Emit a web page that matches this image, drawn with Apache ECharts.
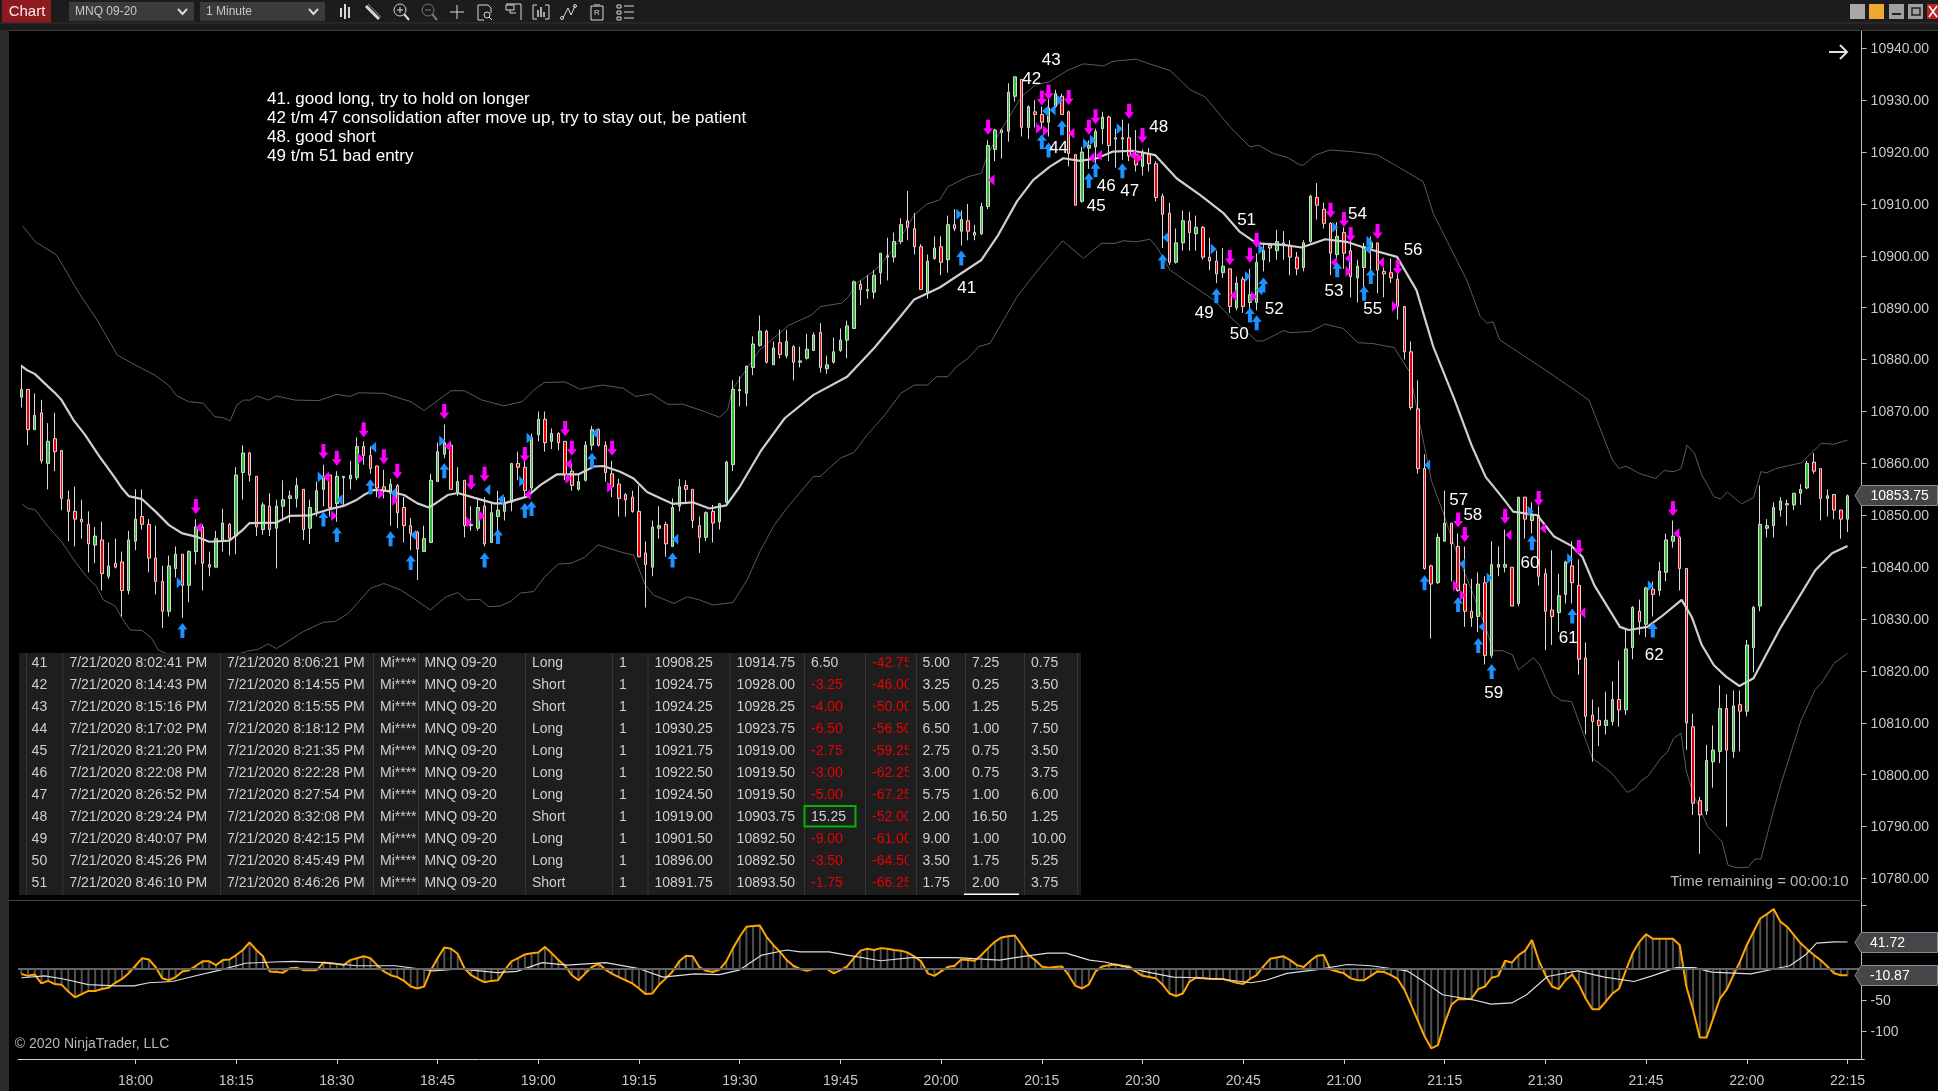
<!DOCTYPE html>
<html><head><meta charset="utf-8"><style>html,body{margin:0;padding:0;background:#000}#c{width:1938px;height:1091px}</style>
<script src="https://cdn.jsdelivr.net/npm/echarts@6/dist/echarts.min.js"></script></head><body><div id="c"></div>
<script>
const PRICE_BASE = 10000;
const highs = [
879,874.25,873.5,872.25,867.75,869.75,862.5,854.75,855.5,853,
850.75,847.75,848.75,844.75,845.5,843,847,855,855,849.25,
848,840.25,842.25,844,842.5,843.25,849.25,848.25,843,847,
851.25,848.5,859.25,863.5,862.25,857.5,852.5,854.25,853,856.75,
854.75,857.25,855,853,856.5,859.75,857.75,858.5,857.5,860.5,
865,864.25,863.25,859.5,858.75,857,856,853.5,849.5,847,
848,858,864,867.5,864.25,859.25,856.75,851.75,853,853.5,
852.25,854.75,853.5,860,862.25,860.75,865.75,870,870,866.75,
866,864.25,860,858,864.25,867.25,866.75,864.25,860.5,857,
854.25,854.75,855.75,845,849,851.75,848.75,853.25,857,856.75,
855,849.75,850.75,852,852.25,860.5,876,876.75,878.75,884.5,
888.5,885.75,883.5,885.75,885.75,882.75,882.5,885,885.25,887,
880.75,884.25,886,887.5,895.25,895.25,896.25,897.25,900.5,903.5,
904.5,907.25,912.5,908.25,902.25,900.25,903.75,903.75,907.75,909,
908.75,910,906,910.25,922.25,924.5,924.5,933.25,934.5,934,
929,930,928.75,930.75,932,931.25,928,919.5,921,922.25,
924.5,927.75,927,924.5,926.25,925.5,924.25,920.5,920.75,918.25,
912,910.25,905.25,908.75,908.5,907.75,905.75,903.5,901,901.5,
897.5,896,896,897.5,900.5,902.5,902.5,905,904.75,903,
900.75,903,911.75,914,910.25,906.5,906.5,905.5,903.75,899.25,
902.5,903.75,902.5,897.75,899.5,897.5,890.25,883.5,876,861.75,
840.5,846.5,854.75,848.5,846.5,844,837.75,839,838.25,845,
844,847.25,840,853.5,853.5,852.5,851.75,839.75,843.25,838.75,
841.25,845,841.5,825.5,814.5,813,816,818,822,828,
832.5,833.75,836.25,837.25,841,846.5,849,846,839.75,811.75,
795.75,805.75,809.5,817.25,815.5,816.25,816.25,826,832.5,855.75,
849.25,852.5,853.5,853,854.25,856,860.5,862,859,855,854,851,854];
const lows = [
870.75,863.5,866.5,860,855,858.5,851,845,844,845.5,
839,840.75,835.5,837.75,839.75,830.5,834.75,843.25,847.25,839,
834.75,828.25,830.5,838,830.25,833.25,840.5,835.5,838.25,840,
843,842.25,842.5,853,856.5,846,846.25,846,839.75,849,
848.5,851.5,845.25,844.5,849.75,851.75,849.75,848.75,852,855,
856.75,859.75,858,853.5,853.25,848,847.5,844.75,843.25,837.5,
843,844.75,856.5,861,855,853.75,845.75,847,847,844,
844.75,847,849,850.75,856.75,853.5,854.75,864.25,862.25,862.75,
862.5,856.75,854.75,854.75,856.5,862.5,863.25,856.5,853.5,849.75,
849.75,850.5,842,832.25,838.25,845.5,842,844,850.75,852.5,
847.5,842.75,845,844.75,847.25,851.75,858.5,871,871,877,
882.5,879.25,879,880.25,880.25,876,878.5,880,881.75,877.5,
877.25,879.25,881.5,880.25,886,890.5,891.75,891.75,894.5,895.25,
898.75,902.25,903,900.25,893.5,891.75,899.25,896.25,896.75,904.75,
902,903,903,904,909,918.25,918.75,922,929.75,923,
922.5,924.75,924.5,923,928.5,927.25,917.25,909.75,910.25,916.75,
917.25,921.5,918.25,917,918.5,918.25,916.25,915.5,916.25,910.5,
901.5,898.25,898.5,901,901,901,899.25,897.25,894.75,895.75,
889,889.5,889,889.25,889.5,897,898.75,899.25,899.25,896.25,
896.25,897,902.5,907,905.25,896.25,899.25,897.5,892,891,
892.75,895,892.75,892,894.75,887.75,880,870.25,858,839.5,
826.25,836.75,845,837.25,835.25,828.5,828.5,827.5,821.25,822.5,
838.25,839,832.5,832.5,845.5,846.5,836.5,824,825,827.5,
833,833,819.25,807.75,802.5,805.5,807.75,809.5,809.25,811.5,
822.25,827,826.5,830.5,834.5,837.25,843.75,835.5,804.75,792.25,
784.75,792.25,797.5,802.25,790,803.25,804.5,811.25,819.75,831.5,
845.75,845.75,849.75,848,851,852,855,858,849,849.75,849.25,845.5,846.75];
const bodyTops = [
874.25,874.25,869.25,869.75,864.25,864.75,862.5,853,850.75,849.25,
848.25,846,845.25,840.25,840.75,841,845.25,849.25,849.75,848.25,
841.75,837.25,840.25,842.5,842.5,843,847.75,847.75,840.5,845.5,
848.5,848.25,857.75,862,862,857.5,852,851.75,851.75,853,
853.75,855.75,855,851.5,854.75,857.5,857.75,857.5,857.5,857.75,
863.25,863.25,861.5,859.5,855.5,856,855.75,851.5,848,846.75,
845.5,856.75,862.25,864,863.5,856.5,856.75,848.25,851.5,851.75,
850.5,851,852.25,860,860,859.25,865,868.5,868.5,865.75,
865.75,864.25,858.5,856.5,863.5,866.5,866.5,863.5,858,856,
854,853.5,850.75,842.75,847.75,848,848.25,851.5,855.5,855.75,
855,848,850.5,850.75,852.25,860.25,874.25,874.25,878.75,883,
885.5,885.5,882.25,883.25,883.5,882.5,879.75,882,884.75,885.25,
879,881.5,883.75,886.5,895,894.5,893.5,896.25,900.5,900,
902.75,906,906.75,905.25,901.75,899,901.5,901.75,906,906,
907,906.75,904.5,909.5,921.25,924.25,924.25,931.5,934.5,934,
928.75,927.75,927.25,928.5,931.25,930.75,927.75,919.5,920,921.25,
924,926.75,926.75,922.75,922.75,922.75,919.5,920,919.75,917.75,
911.5,908.25,902.5,906.75,906.75,905.5,905.5,899.75,899,898,
897.5,894.75,895.5,892.5,898.75,901,902,902.75,902.5,902,
899.75,902.5,911.5,911.25,909,906.25,903.75,904.5,901,898,
901.75,902.5,902.5,897,896.75,895.5,890.25,881.5,870.5,859,
840.25,845.75,848.5,848.5,844,836.75,831.5,836.75,837,840.5,
840.5,840.5,840,853.5,853.5,850,850,838.75,831.75,834.5,
841,840.25,836.5,822.5,811.5,810.5,810.5,814.5,814.5,824.25,
832.25,831.5,836,835.75,839.25,845.25,846,845.75,839.75,809.25,
795,802.75,804.75,812.75,812.75,813.25,813.5,825,832.25,848.25,
848,851.5,852.75,852.25,854.25,855,860,860.25,859,853.75,854,851,853.75];
const bodyBottoms = [
872.75,866.5,866.5,860.5,860,862.25,853.25,850.75,849.25,848.75,
844.5,844.25,838.75,838.25,840,835.5,835.5,845,848.25,841.75,
837.25,831.5,831.5,839.75,836.5,836.5,843,840.75,840,840,
845,845.5,846,858.25,857.75,847.75,847.25,847.25,847.5,851.75,
853.25,853.25,847.25,847.5,850.75,855,851.5,852.25,857.25,857,
857.25,861.5,859,855.25,854.75,854.25,850.5,848,846.5,843.5,
843,844.75,856.5,861.75,855,854.5,848,848,847.5,844.5,
844.75,849.75,850.75,852.5,859.25,854.75,855.25,865.5,864,864.25,
864,857.75,855.75,855,856.75,863.5,863.5,858.25,855.5,853.25,
853,850.75,842,840.5,840,847.5,844.5,844,851.75,855,
849,845.75,845.75,848.5,848.75,852.5,859.75,874,873.5,878.5,
882.75,879.5,879,881,880.75,879.5,879.5,880.25,881.75,878.5,
878.25,879.5,881.75,883.75,886,893.5,893.25,893,896.75,899.75,
899.75,902.75,905.5,901.75,893.5,893,899.5,898.75,899.25,905.25,
904.75,904.75,904,904.25,909.5,920.5,923.75,924,930.75,924.75,
924.75,927.25,925.75,925.75,928.75,927.25,919.75,909.75,910.5,920.75,
921,924.5,921.25,922.5,922.5,919.25,917.5,917.25,917.75,911.25,
908,898.75,898.75,902.5,904.5,904.25,899.75,899,896.5,896.75,
890.25,890,890.25,891,891,899.25,901.5,901,902,899.75,
897.5,897.75,902.75,909.75,906.25,900.5,900.25,900.5,896,895.75,
897.75,901.5,897.25,896.5,895.75,890.25,881.5,870.75,859,839.75,
836.75,837,845,844.5,835.5,831.5,830.25,830.5,823,823,
840,840,832.5,833,849.25,849,838.25,831.5,830.5,831.25,
834.75,837,822.25,811.25,810.25,809.5,809.5,810.25,812.5,812.5,
824.5,829.5,829,834.75,835.5,839,845,839.75,810,794.5,
792.25,793,802.5,804.5,804.75,804.5,812.25,812.25,824.5,832.5,
847.5,848,851,852,852,854.25,855.25,858.5,853.25,853.25,851,849.25,849.25];
const barDirections = (
"GRGRGRRRRR"+"RGRGRRGGRR"+"RRGGRGGRRG"+"GRGGRRGRGG"+"GGRGGGRGGG"+
"GRRRRGRRRR"+"GGGGRGRGGR"+"GGGGRRGGRG"+"RRRGGGRRRR"+"RRRRGGRGGR"+
"RRGRGGGGGG"+"GRGRGRGGGR"+"GGGGGRRGGG"+"GGRRRGGRGR"+"GRRGGGRGGR"+
"GRRGGRRRGG"+"GGRGGRRGRR"+"RRGGRGRRRG"+"RGRGGGRGRR"+"RGGRRRGRRG"+
"GGRRRRRRRR"+"RGGRRRRGRG"+"GGRGRGRRRG"+"GRRRRRGGRG"+"GRGRGGGRRR"+
"RGGGRGRGGG"+"GGGRGGGRRGRRG");
const midLine = [[0,878.8],[0.8,878],[2,877.25],[4,874.8],[5,873.6],[6,872.2],[7.75,868.4],[9.5,865.5],[11.5,861.6],[14,857.1],[15,855.2],[16,853.7],[18,853.1],[20,850.7],[22,848.1],[24,846.5],[26,845.9],[28,844.9],[31,845.1],[33,847.2],[34,848.5],[38,848.6],[40,849.9],[43,850],[46,851.2],[48,851.8],[50,853],[51,853.9],[52.5,854.9],[54.5,854.7],[57,853.9],[59,852.3],[60.7,851.5],[61.7,852.3],[63.5,853.9],[65,854.3],[67.4,853.4],[70.4,852.3],[71.9,852.3],[75.3,853.6],[77.3,855.8],[79.8,857.9],[83,857.9],[85.3,859.4],[86.7,859.5],[89.2,858.4],[91.2,857.1],[93.2,854.5],[95.2,853.3],[97,852.2],[100,852.5],[102.5,851.3],[105,851.9],[107,855.5],[110.1,862.3],[113.7,868.7],[118,873.2],[123,876.7],[127,882.2],[130.3,887.3],[133,891.6],[136.8,893.9],[143,899.2],[145.5,904],[148.3,910.5],[150.7,914.6],[153.2,917.2],[155.2,918.8],[157.7,918.3],[160.2,918.8],[162.6,920.1],[165.6,920.25],[168.9,919.4],[172.1,914.9],[175.6,911.7],[179,908.3],[181.5,904.6],[184,902.4],[188,902.1],[190.7,901.6],[194.2,903.2],[197.4,902.7],[200.4,901.4],[204.9,899.8],[207.8,893.4],[210.3,882.5],[213.5,872.2],[216,863.5],[218.1,857.4],[220.7,853.25],[222.2,850.7],[225.8,850],[228.3,845.9],[230.9,844.1],[232.5,842],[234.3,836.5],[238.1,828.5],[239.4,827.9],[242.2,828.5],[244.2,830.4],[247.3,833.7],[248.8,830.4],[250.3,825],[252.1,821.1],[253.9,818.9],[255.9,817.1],[258,818.6],[262.1,828.5],[267.2,839.4],[269.7,842.7],[272,844.1]];
const upperBand = [[0.2,905.75],[2.1,902.7],[5.2,900.2],[6.3,897.9],[8.6,892.8],[11.3,887.6],[14.3,880.9],[16.9,879],[19.9,877],[21.9,875.1],[23.1,873.1],[24.9,871.9],[27.1,871.6],[28.8,869],[30.1,868.8],[31.1,868.2],[32.1,871.25],[33.1,872.2],[34.1,872.2],[35.1,873],[36.8,872.2],[38,873],[40.8,872.2],[44.3,872.1],[47,873.3],[49,872.9],[50.2,873.6],[54,873.5],[58,871.9],[60,870.2],[64,874],[66,874],[68.6,872.2],[71.9,871.1],[74.6,871.9],[76.3,874.1],[77.9,875.6],[81,875.7],[83.2,874.3],[86.6,875.1],[89.6,874.5],[91.5,872.9],[93.9,873.4],[96.2,871.4],[98.5,871.4],[101.1,870.3],[104,868.9],[105.2,870.3],[105.9,874.2],[108.1,878.3],[110,881.9],[114.3,886.6],[117.7,888.6],[119,890.2],[122.2,890.9],[123.2,892.1],[124.4,894.7],[127.2,897.25],[129.8,901.1],[133,907.85],[134.9,910],[136.8,910.8],[138,913.3],[141,915.25],[143,915.9],[143.8,919.1],[145.5,923.3],[149,930.7],[151,932.9],[153.2,933.6],[155.9,935.8],[158.2,937],[161.2,936.6],[162.6,937.5],[166.1,937.9],[168,937],[171.1,935.7],[174.1,932],[176.3,930.65],[180,924.9],[183,921],[184.3,921.3],[186.5,919.7],[188.5,919],[190.5,917.5],[191,917.5],[192.7,919.4],[194.9,920.4],[198.4,920.05],[201.9,919.5],[205,917.2],[208.8,914.3],[210.3,908.2],[212.3,903],[215.3,895.3],[217.3,888.3],[218.3,887],[219.2,887.3],[220.2,883.8],[227,878],[233.5,872.2],[237,860.6],[238,859],[239,859.5],[241.1,858],[243.4,857.1],[244.7,858.6],[246.2,858.4],[247.2,859],[248.1,863.5],[249.2,862],[250.3,857.75],[252.1,853.6],[253.1,853.1],[254.1,854.5],[256.2,852.2],[258,853.4],[259.1,858.4],[260,858.2],[261.3,859],[265.1,860.1],[268.1,863.85],[270,863.7],[272,864.5]];
const lowerBand = [[0.15,852.1],[1,851.3],[2,851.15],[4,847.8],[6,844.9],[8,841.1],[9.7,838.2],[11.2,836.25],[12.2,833.7],[14,832.5],[15,830.15],[16.2,827.9],[18,827.8],[19.4,826.3],[20.4,824.05],[24,822],[29,822],[33.7,823.8],[35.3,824.2],[36.8,825.2],[38,824.3],[42,827.6],[45,829.4],[46.7,829.5],[48.7,831.1],[50,833],[52,835.9],[54,836.85],[56.5,835.6],[58.3,834.1],[60.9,831.75],[63.3,834.3],[65,835.1],[66.3,833.7],[68.3,833.8],[69.6,832.4],[71.3,832.5],[72.9,833.4],[74.3,835],[76.3,835.3],[78,838.2],[80,840.6],[81.9,840.75],[83.9,841.9],[85.9,844.3],[89.6,842.8],[91.2,842.35],[92.9,836.6],[94.2,834.6],[97.2,833],[99.2,834.3],[101,833.7],[103,832.7],[106,833.2],[108.1,837.55],[110,843],[112,847.8],[114,851.35],[118,857.5],[119,857.5],[122,861],[124,862.1],[126,865.5],[128.6,869.3],[131,873.5],[133,875.1],[135,875.1],[136.3,876.7],[138,876.7],[139.3,878.65],[141,880.25],[142.6,882.5],[144.3,883.15],[145.8,886.5],[148.3,892.1],[150.2,895.3],[152.2,898.5],[155.1,902.9],[158.2,899.5],[160.9,902.4],[162.9,902.4],[164.1,902.9],[166.1,902.7],[168.1,903.2],[169.1,901.75],[171.1,897.25],[173.6,895],[177.6,891.5],[180,888.3],[184,883.6],[185,883.6],[188,885.6],[189,885.2],[192,885.4],[194.2,886.85],[196.9,886],[199.1,883.25],[201.3,883.1],[204.5,882.3],[205.3,880.6],[206.8,877.6],[208,869.6],[210,856.8],[212,849.7],[214,842],[216,835.6],[218.1,828.5],[219.2,823.9],[220.7,823.9],[222.1,823.1],[223,820.2],[225.2,822.55],[226.2,821.1],[228.1,815.4],[229.4,814.3],[230.9,814.1],[233,806.7],[234,803.2],[236.9,800.3],[239.2,796.6],[240.4,797.4],[241.1,798.65],[242.4,799.9],[244.2,803.2],[245.2,804.4],[246.1,807],[247.2,808],[248,800.6],[249.2,795.75],[251.2,790],[253.3,787.1],[254.2,782.6],[255.4,782.1],[257.2,782.15],[258.2,783.75],[259.1,783.75],[261,793.2],[262.1,798.3],[265.1,810.55],[267.2,816.45],[268.1,817.6],[270,821.45],[272,823.4]];
const blueUpArrows = [[24,827.8],[45,849.3],[47,846.3],[52,855.5],[55,845.5],[58,840.9],[63,858.6],[69,841.4],[71,845.9],[75,850.9],[76,851.3],[85,860.6],[97,841.4],[140,899.6],[152,922],[153,920.4],[155,924.7],[159,914.5],[160,916.6],[164,916.4],[170,898.9],[178,892.3],[183,888.6],[184,887.1],[185,894.4],[196,897.3],[200,892.8],[201,896],[209,837],[214,832.8],[217,824.9],[219,819.9],[225,844.7],[231,830.6],[243,827.9]];
const magentaDownArrows = [[26,851.7],[45,862.3],[47,861],[51,866.5],[54,861.3],[56,858.5],[63,870],[67,856.3],[69,857.9],[75,861.7],[81,866.7],[82,862.9],[88,862.9],[144,924.8],[152,930.4],[153,931.5],[156,930.5],[159,924.8],[160,926.8],[165,927.85],[167,923.2],[180,899.7],[183,900.1],[184,903],[195,908.8],[197,907],[198,904.1],[202,904.7],[205,897.8],[214,849.1],[215,846.3],[221,849.8],[226,853.25],[232,843.8],[246,851.3]];
const blueRightMarks = [[23.6,837],[44.6,857.4],[62.7,864.3],[74.6,856.5],[75.7,864.9],[139.7,908],[154.7,930],[158.6,921.6],[159.6,922.3],[163.6,924.5],[177.6,901.3],[182.7,896],[184.7,901.3],[195.7,905.5],[200.8,902.8],[218.7,837.9],[224.8,850.8],[230.7,841.6],[242.7,836.4]];
const blueLeftMarks = [[47.4,853],[52.4,863.1],[55.4,854.3],[58.4,846.2],[69.4,854.9],[71.4,853.1],[85.4,865.8],[97.4,845.4],[152.5,927.9],[153.6,928.1],[170.4,903.55],[184.4,893.4],[200.5,901.3],[209.4,859.7],[214.6,840.6],[217.5,828.5]];
const magentaRightMarks = [[46.6,849.9],[50.6,860.9],[53.6,854.1],[55.7,852.9],[66.7,848.7],[68.6,849.9],[81.5,857.1],[87.7,855.4],[151.6,924.6],[152.6,924.1],[166.6,918.9],[183.6,892.1],[197.7,897],[204.6,890.3],[213.7,836.4],[214.7,834.6]];
const magentaLeftMarks = [[26.4,847.6],[45.4,857.4],[63.5,863.3],[75.4,854],[81.5,859.9],[144.5,914.6],[156.4,923.6],[159.4,918.9],[160.5,919.4],[165.5,919.4],[180.5,892.4],[195.5,898.7],[197.6,899.5],[202.5,898.7],[221.5,846.2],[226.6,847.5],[232.5,831.2],[246.5,846.5]];
const tradeLabels = [[140.8,893.9,'41'],[150.5,934.3,'42'],[153.4,937.9,'43'],[154.5,921,'44'],[160.1,909.8,'45'],[161.6,913.5,'46'],[165.1,912.7,'47'],[169.4,925,'48'],[176.2,889.2,'49'],[181.4,885.1,'50'],[182.5,907.1,'51'],[186.6,889.9,'52'],[195.5,893.4,'53'],[199,908.1,'54'],[201.3,889.9,'55'],[207.3,901.3,'56'],[214.1,853,'57'],[216.2,850.1,'58'],[219.3,815.8,'59'],[224.7,841,'60'],[230.4,826.4,'61'],[243.2,823.3,'62']];
const oscillator = [
-9,-12,-10,-24,-20,-25,-26,-37,-46,-41,-36,-36,-33,-31,-23,-17,-8,4,16,14,
2,-16,-19,-14,-5,-3,4,11,11,5,13,14,21,29,41,29,19,-5,-6,-7,
0,1,-3,-3,-3,9,8,7,5,13,16,19,16,5,-5,-11,-14,-20,-29,-32,
-29,-3,16,33,31,23,0,-11,-17,-22,-20,-19,-3,11,16,22,24,25,34,24,
13,4,-11,-19,-8,2,7,-2,-9,-14,-19,-24,-32,-41,-40,-26,-16,-5,11,20,
19,2,-4,-6,-2,11,32,50,66,67,68,50,37,26,13,4,-1,-4,-1,-1,
-1,-8,-3,3,16,28,31,29,32,31,29,28,25,19,11,-8,-12,-5,2,4,
14,13,12,21,32,42,49,51,52,37,21,13,3,1,2,3,-11,-28,-32,-26,
-5,3,5,6,4,3,-5,-12,-14,-16,-26,-40,-44,-40,-21,-15,-16,-17,-17,-17,
-20,-23,-25,-17,-11,3,15,17,19,13,5,2,12,20,21,-2,-5,-8,-16,-19,
-19,-12,-5,-6,-11,-17,-34,-58,-83,-108,-127,-122,-87,-58,-49,-49,-48,-33,-29,-15,
-12,12,9,21,28,45,13,-11,-29,-33,-19,-10,-26,-48,-65,-65,-53,-40,-32,-3,
24,42,54,47,47,47,47,37,-29,-66,-110,-110,-79,-48,-34,-11,11,37,58,79,
86,94,74,66,53,40,30,21,13,3,-8,-11,-10.87];
const signalLine = [[0,-15],[3.5,-12],[6.3,-17],[10,-26],[14,-28],[16.8,-28],[19,-23],[22.5,-21],[26.3,-11],[29.6,-3],[33.4,8],[37.6,10],[40.5,11],[45.3,9],[50,4],[55.7,4],[61.4,-4],[65.2,-1],[70.9,-7],[73.8,-5],[77.6,9],[81.3,5],[87,9],[91.8,0],[95.6,-14],[100.3,-9],[104,-10],[106.9,-3],[110.3,21],[114,29],[116,26],[120.3,26],[123,21],[128,12],[132.6,17],[139.3,17],[145.7,13],[149.3,19],[152.9,24],[155.6,24],[159.1,13],[161.4,10],[167.2,-5],[171.6,-14],[175.2,-15],[178.7,-17],[183.2,-23],[185.4,-19],[188.5,-8],[193,-2],[197.5,6],[201,4],[206.4,-4],[208.6,-19],[211.7,-42],[216.2,-50],[218.9,-57],[222,-55],[224.2,-42],[227.3,-13],[231.8,-4],[235.8,-14],[240.2,-21],[242.9,-12],[246.5,1],[249.2,1],[251.8,-6],[257.6,-9],[261.6,0],[263.4,4],[265.7,21],[267.4,40],[270.1,42],[272,41.72]];
const priceTicks = [10780,10790,10800,10810,10820,10830,10840,10850,10860,10870,10880,10890,10900,10910,10920,10930,10940];
const oscTicks = [100,50,0,-50,-100];
const oscLabels = [-50,-100];
const noteLines = ['41. good long, try to hold on longer','42 t/m 47 consolidation after move up, try to stay out, be patient','48. good short','49 t/m 51 bad entry'];
const tradeNo = ['41','42','43','44','45','46','47','48','49','50','51'];
const entryTimes = ['7/21/2020 8:02:41 PM','7/21/2020 8:14:43 PM','7/21/2020 8:15:16 PM','7/21/2020 8:17:02 PM','7/21/2020 8:21:20 PM','7/21/2020 8:22:08 PM','7/21/2020 8:26:52 PM','7/21/2020 8:29:24 PM','7/21/2020 8:40:07 PM','7/21/2020 8:45:26 PM','7/21/2020 8:46:10 PM'];
const exitTimes = ['7/21/2020 8:06:21 PM','7/21/2020 8:14:55 PM','7/21/2020 8:15:55 PM','7/21/2020 8:18:12 PM','7/21/2020 8:21:35 PM','7/21/2020 8:22:28 PM','7/21/2020 8:27:54 PM','7/21/2020 8:32:08 PM','7/21/2020 8:42:15 PM','7/21/2020 8:45:49 PM','7/21/2020 8:46:26 PM'];
const sides = ['Long','Short','Short','Long','Long','Long','Long','Short','Long','Long','Short'];
const entryPrices = ['10908.25','10924.75','10924.25','10930.25','10921.75','10922.50','10924.50','10919.00','10901.50','10896.00','10891.75'];
const exitPrices = ['10914.75','10928.00','10928.25','10923.75','10919.00','10919.50','10919.50','10903.75','10892.50','10892.50','10893.50'];
const profits = ['6.50','-3.25','-4.00','-6.50','-2.75','-3.00','-5.00','15.25','-9.00','-3.50','-1.75'];
const cumProfits = ['-42.75','-46.00','-50.00','-56.50','-59.25','-62.25','-67.25','-52.00','-61.00','-64.50','-66.25'];
const maes = ['5.00','3.25','5.00','6.50','2.75','3.00','5.75','2.00','9.00','3.50','1.75'];
const mfes = ['7.25','0.25','1.25','1.00','0.75','0.75','1.00','16.50','1.00','1.75','2.00'];
const etds = ['0.75','3.50','5.25','7.50','3.50','3.75','6.00','1.25','10.00','5.25','3.75'];

const FONT = '"Liberation Sans", Arial, sans-serif';
const barCount = highs.length;
const slotCount = barCount + 2;
const barTimes = [];
for (let i = 0; i < slotCount; i++) {
  const m = 17 * 60 + 43 + i;
  barTimes.push(String(Math.floor(m / 60)).padStart(2, '0') + ':' + String(m % 60).padStart(2, '0'));
}
const candles = highs.map((h, i) => {
  const t = PRICE_BASE + bodyTops[i], b = PRICE_BASE + bodyBottoms[i];
  const up = barDirections[i] === 'G';
  return [up ? b : t, up ? t : b, PRICE_BASE + lows[i], PRICE_BASE + h];
});
const withBase = a => a.map(p => [p[0], PRICE_BASE + p[1]]);

const GRID_L = 17.94, GRID_W = 1846.35;
const isTimeTick = (idx, v) => { const m = +String(v).slice(3); return idx >= 10 && idx < barCount && m % 15 === 0; };

const UP = 'path://M5 0L10 6.5L7 6.5L7 15L3 15L3 6.5L0 6.5Z';
const DOWN = 'path://M3 0L7 0L7 8.5L10 8.5L5 15L0 8.5L3 8.5Z';
const RIGHT = 'path://M0 0L6 5.5L0 11Z';
const LEFT = 'path://M6 0L6 11L0 5.5Z';
const mark = (data, sym, size, color, z) => ({ type: 'scatter', xAxisIndex: 1, yAxisIndex: 0, data: withBase(data), symbol: sym, symbolSize: size, itemStyle: { color, opacity: 1 }, z, silent: true });
const bandLine = (data, color, width, z) => ({ type: 'line', xAxisIndex: 1, yAxisIndex: 0, data: withBase(data), showSymbol: false, symbol: 'none', lineStyle: { color, width }, z, silent: true });

// ---------- overlay furniture ----------
const g = [];
const Z = 20;
const rect = (x, y, w, h, fill, extra) => g.push(Object.assign({ type: 'rect', z: Z, silent: true, shape: { x, y, width: w, height: h }, style: { fill } }, extra || {}));
const text = (x, y, t, fill, size, align, z) => g.push({ type: 'text', z: z || Z + 1, silent: true, style: { x, y: y + 1, text: t, fill, font: size + 'px ' + FONT, textAlign: align || 'left', textVerticalAlign: 'middle' } });
const pline = (pts, stroke, lw) => g.push({ type: 'polyline', z: Z + 1, silent: true, shape: { points: pts }, style: { stroke, lineWidth: lw || 1, fill: null } });
const poly = (pts, fill, stroke) => g.push({ type: 'polygon', z: Z + 1, silent: true, shape: { points: pts }, style: { fill, stroke: stroke || null, lineWidth: 1 } });
const circ = (cx, cy, r, stroke) => g.push({ type: 'circle', z: Z + 1, silent: true, shape: { cx, cy, r }, style: { stroke, fill: null, lineWidth: 1 } });

// window chrome
rect(0, 0, 1938, 30, '#1c1c1c');
rect(0, 22.5, 1938, 1, '#333333');
rect(0, 30, 9, 1061, '#2b2b2b');
rect(9, 30, 1929, 1, '#3c3c3c');
rect(2, 0, 49, 22.5, '#8e1a1f');
text(27, 10.5, 'Chart', '#f0f0f0', 15, 'center');
rect(69, 2, 125, 19, '#3b3b3e');
text(75, 10.5, 'MNQ 09-20', '#c8c8c8', 12);
pline([[178, 9], [182.5, 14], [187, 9]], '#d8d8d8', 2);
rect(200, 2, 125, 19, '#3b3b3e');
text(206, 10.5, '1 Minute', '#c8c8c8', 12);
pline([[309, 9], [313.5, 14], [318, 9]], '#d8d8d8', 2);
const ic = '#d8d8d8';
pline([[341, 8], [341, 17]], ic, 2); pline([[345, 4], [345, 19]], ic, 2); pline([[349, 7], [349, 18]], ic, 2);
pline([[366, 6], [379, 19]], ic, 3); pline([[368, 4], [381, 17]], '#888', 1);
circ(400, 10, 6, ic); pline([[404, 14], [409, 20]], ic, 2); pline([[397, 10], [403, 10]], ic, 1); pline([[400, 7], [400, 13]], ic, 1);
circ(428, 10, 6, '#777'); pline([[432, 14], [437, 20]], '#777', 2); pline([[425, 10], [431, 10]], '#777', 1);
pline([[450, 12], [464, 12]], ic, 1); pline([[457, 5], [457, 19]], ic, 1);
pline([[484, 20], [478, 20], [478, 5], [488, 5], [491, 8], [491, 13]], ic, 1); circ(487, 15, 3, ic); pline([[489, 17], [492, 20]], ic, 1);
pline([[506, 4], [521, 4], [521, 20]], ic, 1); rect(506, 5, 8, 5, 'transparent', { style: { fill: null, stroke: ic, lineWidth: 1 } }); pline([[510, 10], [510, 13], [516, 13]], ic, 1);
pline([[537, 5], [533, 5], [533, 19], [537, 19]], ic, 1); pline([[545, 5], [549, 5], [549, 19], [545, 19]], ic, 1); pline([[538, 17], [538, 10]], ic, 1.5); pline([[541, 17], [541, 7]], ic, 1.5); pline([[544, 17], [544, 12]], ic, 1.5);
pline([[563, 18], [568, 8], [571, 15], [575, 6]], ic, 1); circ(562, 18, 1.5, ic); circ(575, 6, 1.5, ic);
rect(591, 6, 12, 14, 'transparent', { style: { fill: null, stroke: ic, lineWidth: 1 } }); rect(594, 4, 6, 3, '#888'); text(597, 12, 'R', ic, 8, 'center');
rect(617, 5, 4, 3, 'transparent', { style: { fill: null, stroke: ic, lineWidth: 1 } }); rect(617, 11, 4, 3, 'transparent', { style: { fill: null, stroke: ic, lineWidth: 1 } }); rect(617, 17, 4, 3, 'transparent', { style: { fill: null, stroke: ic, lineWidth: 1 } });
pline([[624, 6], [634, 6]], ic, 1); pline([[624, 12], [634, 12]], ic, 1); pline([[624, 18], [634, 18]], ic, 1);
rect(1850, 4, 15, 15, '#a8a8a8'); rect(1869, 4, 15, 15, '#f0a830'); rect(1889, 4, 15, 15, '#a0a0a0'); rect(1908, 4, 15, 15, '#a0a0a0'); rect(1927, 4, 11, 15, '#c02020');
pline([[1892, 14], [1901, 14]], '#222', 2); rect(1912, 8, 8, 7, 'transparent', { style: { fill: null, stroke: '#222', lineWidth: 1.5 } });
pline([[1929, 6], [1937, 17]], '#fff', 1.5); pline([[1937, 6], [1929, 17]], '#fff', 1.5);
// scroll arrow
pline([[1829, 52], [1847, 52]], '#e0e0e0', 2); pline([[1840, 45], [1847, 52], [1840, 59]], '#e0e0e0', 2);
// notes
noteLines.forEach((s, i) => text(267, 98.7 + i * 18.85, s, '#ffffff', 17));
// trade table
const TT = 653, TB = 895, RH = 22.03, R0 = 662;
rect(19, TT, 1062, TB - TT, '#1e1e1e');
const colX = [26, 62.4, 220, 373, 418, 525, 612, 647.5, 729.6, 804, 865, 916, 965, 1024, 1077];
colX.forEach(x => rect(x, TT, 1, TB - TT, '#353535'));
const tc = '#cfcfcf', neg = '#e80000', fs = 14;
tradeNo.forEach((n, r) => {
  const y = R0 + r * RH;
  text(31.6, y, n, tc, fs);
  text(69.4, y, entryTimes[r], tc, fs);
  text(227, y, exitTimes[r], tc, fs);
  text(380, y, 'Mi****', tc, fs);
  text(424.4, y, 'MNQ 09-20', tc, fs);
  text(532, y, sides[r], tc, fs);
  text(619, y, '1', tc, fs);
  text(654.5, y, entryPrices[r], tc, fs);
  text(736.6, y, exitPrices[r], tc, fs);
  text(811, y, profits[r], profits[r][0] === '-' ? neg : tc, fs);
  text(872, y, cumProfits[r], neg, fs);
  text(922.5, y, maes[r], tc, fs);
  text(972, y, mfes[r], tc, fs);
  text(1031, y, etds[r], tc, fs);
});
g.push({ type: 'rect', z: Z + 2, silent: true, shape: { x: 908.5, y: TT, width: 7.5, height: TB - TT }, style: { fill: '#1e1e1e' } });
g.push({ type: 'rect', z: Z + 3, silent: true, shape: { x: 804.5, y: 806, width: 51, height: 20.5 }, style: { fill: null, stroke: '#00b400', lineWidth: 2 } });
rect(964, 893.5, 55, 1.5, '#ffffff', { z: Z + 3 });
// time remaining / copyright
text(1848.5, 880.7, 'Time remaining = 00:00:10', '#b8b8b8', 15, 'right');
text(14.7, 1043, '\u00a9 2020 NinjaTrader, LLC', '#b8b8b8', 14);
// pane separator
rect(9, 900, 1853, 1, '#444444');
// value tags
const tag = (yc, h, label, tx) => { poly([[1855, yc], [1861, yc - h / 2], [1937.5, yc - h / 2], [1937.5, yc + h / 2], [1861, yc + h / 2]], '#45454a', '#8a8a8a'); text(tx, yc, label, '#ffffff', 14); };
tag(495.5, 20, '10853.75', 1870.5);
tag(942.5, 20, '41.72', 1870);
tag(975.5, 20, '-10.87', 1870);

const chart = echarts.init(document.getElementById('c'), null, { renderer: 'canvas' });
chart.setOption({
  animation: false,
  backgroundColor: '#000000',
  textStyle: { fontFamily: FONT },
  grid: [
    { left: GRID_L, top: 30, width: GRID_W, height: 870 },
    { left: GRID_L, top: 900, width: GRID_W, height: 159 }
  ],
  xAxis: [
    { type: 'category', gridIndex: 0, data: barTimes, show: false, boundaryGap: true },
    { type: 'value', gridIndex: 0, min: -0.5, max: slotCount - 0.5, show: false },
    { type: 'category', gridIndex: 1, data: barTimes, boundaryGap: true, position: 'bottom',
      axisLine: { show: true, onZero: false, lineStyle: { color: '#cfcfcf', width: 1 } },
      axisTick: { show: true, length: 5, alignWithLabel: true, interval: isTimeTick, lineStyle: { color: '#cfcfcf' } },
      axisLabel: { show: true, color: '#c8c8c8', fontSize: 14, fontFamily: FONT, margin: 15, interval: isTimeTick, hideOverlap: false },
      splitLine: { show: false } },
    { type: 'value', gridIndex: 1, min: -0.5, max: slotCount - 0.5, show: false }
  ],
  yAxis: [
    { type: 'value', gridIndex: 0, position: 'right', offset: -2.7, min: 10775.86, max: 10943.52, scale: true,
      axisLine: { show: true, onZero: false, lineStyle: { color: '#bdbdbd' } },
      axisTick: { show: true, length: 5, customValues: priceTicks, lineStyle: { color: '#bdbdbd' } },
      axisLabel: { color: '#c8c8c8', fontSize: 14, fontFamily: FONT, margin: 9, verticalAlign: 'top', lineHeight: 2, customValues: priceTicks, formatter: v => Number(v).toFixed(2) },
      splitLine: { show: false } },
    { type: 'value', gridIndex: 1, position: 'right', offset: -2.7, min: -144, max: 108.4,
      axisLine: { show: true, onZero: false, lineStyle: { color: '#bdbdbd' } },
      axisTick: { show: true, length: 5, customValues: oscTicks, lineStyle: { color: '#bdbdbd' } },
      axisLabel: { color: '#c8c8c8', fontSize: 14, fontFamily: FONT, margin: 9, verticalAlign: 'top', lineHeight: 2, customValues: oscLabels },
      splitLine: { show: false } }
  ],
  series: [
    bandLine(upperBand, '#5a5a5a', 1, 1),
    bandLine(lowerBand, '#5a5a5a', 1, 1),
    { type: 'candlestick', xAxisIndex: 0, yAxisIndex: 0, data: candles, barWidth: 3, z: 2, silent: true, clip: false,
      itemStyle: { color: '#2fc12f', color0: '#ee0000', borderColor: '#d8d8d8', borderColor0: '#d8d8d8', borderColorDoji: '#d8d8d8', borderWidth: 1 } },
    bandLine(midLine, '#cfcfcf', 2.2, 3),
    mark(blueUpArrows, UP, [10, 15], '#1e90ff', 5),
    mark(magentaDownArrows, DOWN, [10, 15], '#ff00ff', 5),
    mark(blueRightMarks, RIGHT, [6, 11], '#1e90ff', 4),
    mark(blueLeftMarks, LEFT, [6, 11], '#1e90ff', 4),
    mark(magentaRightMarks, RIGHT, [6, 11], '#ff00ff', 4),
    mark(magentaLeftMarks, LEFT, [6, 11], '#ff00ff', 4),
    { type: 'scatter', xAxisIndex: 1, yAxisIndex: 0, z: 6, silent: true, symbolSize: 1, itemStyle: { color: 'rgba(0,0,0,0)', opacity: 1 },
      data: tradeLabels.map(d => ({ value: [d[0], PRICE_BASE + d[1]], name: d[2] })),
      label: { show: true, position: 'inside', offset: [0, 1], formatter: p => p.name, color: '#ffffff', opacity: 1, fontSize: 17, fontFamily: FONT } },
    { type: 'bar', xAxisIndex: 2, yAxisIndex: 1, data: oscillator, barWidth: 2, itemStyle: { color: '#505050' }, z: 1, silent: true,
      markLine: { silent: true, symbol: 'none', label: { show: false }, lineStyle: { color: '#646464', width: 2, type: 'solid', opacity: 1 }, data: [{ yAxis: 0 }], animation: false } },
    { type: 'line', xAxisIndex: 2, yAxisIndex: 1, data: oscillator, showSymbol: false, symbol: 'none', lineStyle: { color: '#ffa500', width: 2 }, z: 3, silent: true },
    { type: 'line', xAxisIndex: 3, yAxisIndex: 1, data: signalLine, showSymbol: false, symbol: 'none', lineStyle: { color: '#dddddd', width: 1.2 }, z: 4, silent: true }
  ],
  graphic: { elements: g }
});
</script></body></html>
